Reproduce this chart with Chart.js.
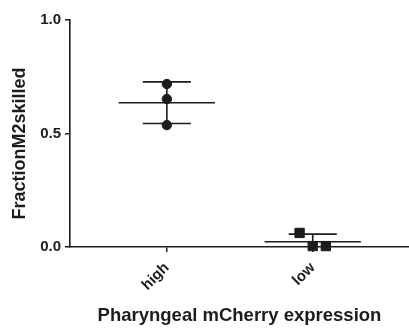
<!DOCTYPE html>
<html>
<head>
<meta charset="utf-8">
<script src="https://cdn.jsdelivr.net/npm/chart.js@4"></script>
<style>
  html, body { margin: 0; padding: 0; background: #fff; }
  #wrap { width: 409px; height: 330px; }
</style>
</head>
<body>
<div id="wrap"><canvas id="grafico"></canvas></div>
<script>
// categorias y valores
const categorias = ['high', 'low'];
const posiciones = [1, 2];
const highX = [1, 1, 1];
const highY = [0.718, 0.652, 0.537];
const lowX = [1.91, 2.0, 2.09];
const lowY = [0.062, 0.004, 0.004];
const yTicks = [0, 0.5, 1.0];

const tinta = '#1c1c1c';
const fuente = 'Arial, "Liberation Sans", sans-serif';

function media(arr) {
  return arr.reduce((a, b) => a + b, 0) / arr.length;
}
function desv(arr) {
  const m = media(arr);
  return Math.sqrt(arr.reduce((a, b) => a + (b - m) * (b - m), 0) / (arr.length - 1));
}

const grupos = [
  { pos: posiciones[0], vals: highY },
  { pos: posiciones[1], vals: lowY }
];

// media + SD dibujadas con las escalas del grafico (recortadas al area)
const barrasError = {
  id: 'barrasError',
  beforeDatasetsDraw(chart) {
    const { ctx, chartArea, scales: { x, y } } = chart;
    ctx.save();
    ctx.beginPath();
    ctx.rect(chartArea.left, chartArea.top - 5, chartArea.right - chartArea.left, chartArea.bottom - chartArea.top + 5);
    ctx.clip();
    ctx.strokeStyle = tinta;
    ctx.lineWidth = 1.6;
    grupos.forEach(g => {
      const m = media(g.vals);
      const s = desv(g.vals);
      const cx = x.getPixelForValue(g.pos);
      const my = y.getPixelForValue(m);
      const ty = y.getPixelForValue(m + s);
      const by = y.getPixelForValue(m - s);
      const ancho = x.getPixelForValue(g.pos + 0.33) - cx;
      const cap = x.getPixelForValue(g.pos + 0.165) - cx;
      ctx.beginPath();
      ctx.moveTo(cx - ancho, my); ctx.lineTo(cx + ancho, my);
      ctx.moveTo(cx, ty); ctx.lineTo(cx, by);
      ctx.moveTo(cx - cap, ty); ctx.lineTo(cx + cap, ty);
      ctx.moveTo(cx - cap, by); ctx.lineTo(cx + cap, by);
      ctx.stroke();
    });
    ctx.restore();
  }
};

const ctx = document.getElementById('grafico').getContext('2d');

new Chart(ctx, {
  type: 'scatter',
  data: {
    datasets: [
      {
        label: 'high',
        data: highX.map((v, i) => ({ x: v, y: highY[i] })),
        pointStyle: 'circle',
        pointRadius: 4.7,
        pointHoverRadius: 4.7,
        backgroundColor: tinta,
        borderColor: tinta,
        clip: false
      },
      {
        label: 'low',
        data: lowX.map((v, i) => ({ x: v, y: lowY[i] })),
        pointStyle: 'rect',
        pointRadius: 6.6,
        pointHoverRadius: 6.6,
        backgroundColor: tinta,
        borderColor: tinta,
        clip: false
      }
    ]
  },
  options: {
    responsive: true,
    maintainAspectRatio: false,
    animation: false,
    layout: { autoPadding: false, padding: { top: 20, right: 0, left: 0, bottom: 0 } },
    plugins: {
      legend: { display: false },
      tooltip: { enabled: false }
    },
    scales: {
      x: {
        type: 'linear',
        min: 0.336,
        max: 2.66,
        afterBuildTicks: (scale) => { scale.ticks = posiciones.map(v => ({ value: v })); },
        afterFit: (scale) => {
          scale.height = 83;
          scale.paddingLeft = 0;
          scale.paddingRight = 0;
        },
        grid: { display: true, drawOnChartArea: false, drawTicks: true, tickLength: 5, color: tinta, lineWidth: 1.5 },
        border: { display: true, color: tinta, width: 1.6 },
        ticks: {
          minRotation: 45,
          maxRotation: 45,
          padding: 7,
          color: tinta,
          font: { family: fuente, size: 15, weight: 'bold' },
          callback: (v) => categorias[posiciones.indexOf(v)] || ''
        },
        title: {
          display: true,
          text: 'Pharyngeal mCherry expression',
          color: tinta,
          font: { family: fuente, size: 18.5, weight: 'bold' },
          padding: { top: 4, bottom: 3 }
        }
      },
      y: {
        min: 0,
        max: 1,
        afterBuildTicks: (scale) => { scale.ticks = yTicks.map(v => ({ value: v })); },
        afterFit: (scale) => { scale.width = 70; },
        grid: { display: true, drawOnChartArea: false, drawTicks: true, tickLength: 5, color: tinta, lineWidth: 1.5 },
        border: { display: true, color: tinta, width: 1.6 },
        ticks: {
          padding: 4,
          color: tinta,
          font: { family: fuente, size: 15, weight: 'bold' },
          callback: (v) => v.toFixed(1)
        },
        title: {
          display: true,
          text: 'FractionM2skilled    ',
          color: tinta,
          font: { family: fuente, size: 18, weight: 'bold' },
          padding: { top: 9, bottom: 4 }
        }
      }
    }
  },
  plugins: [barrasError]
});
</script>
</body>
</html>
